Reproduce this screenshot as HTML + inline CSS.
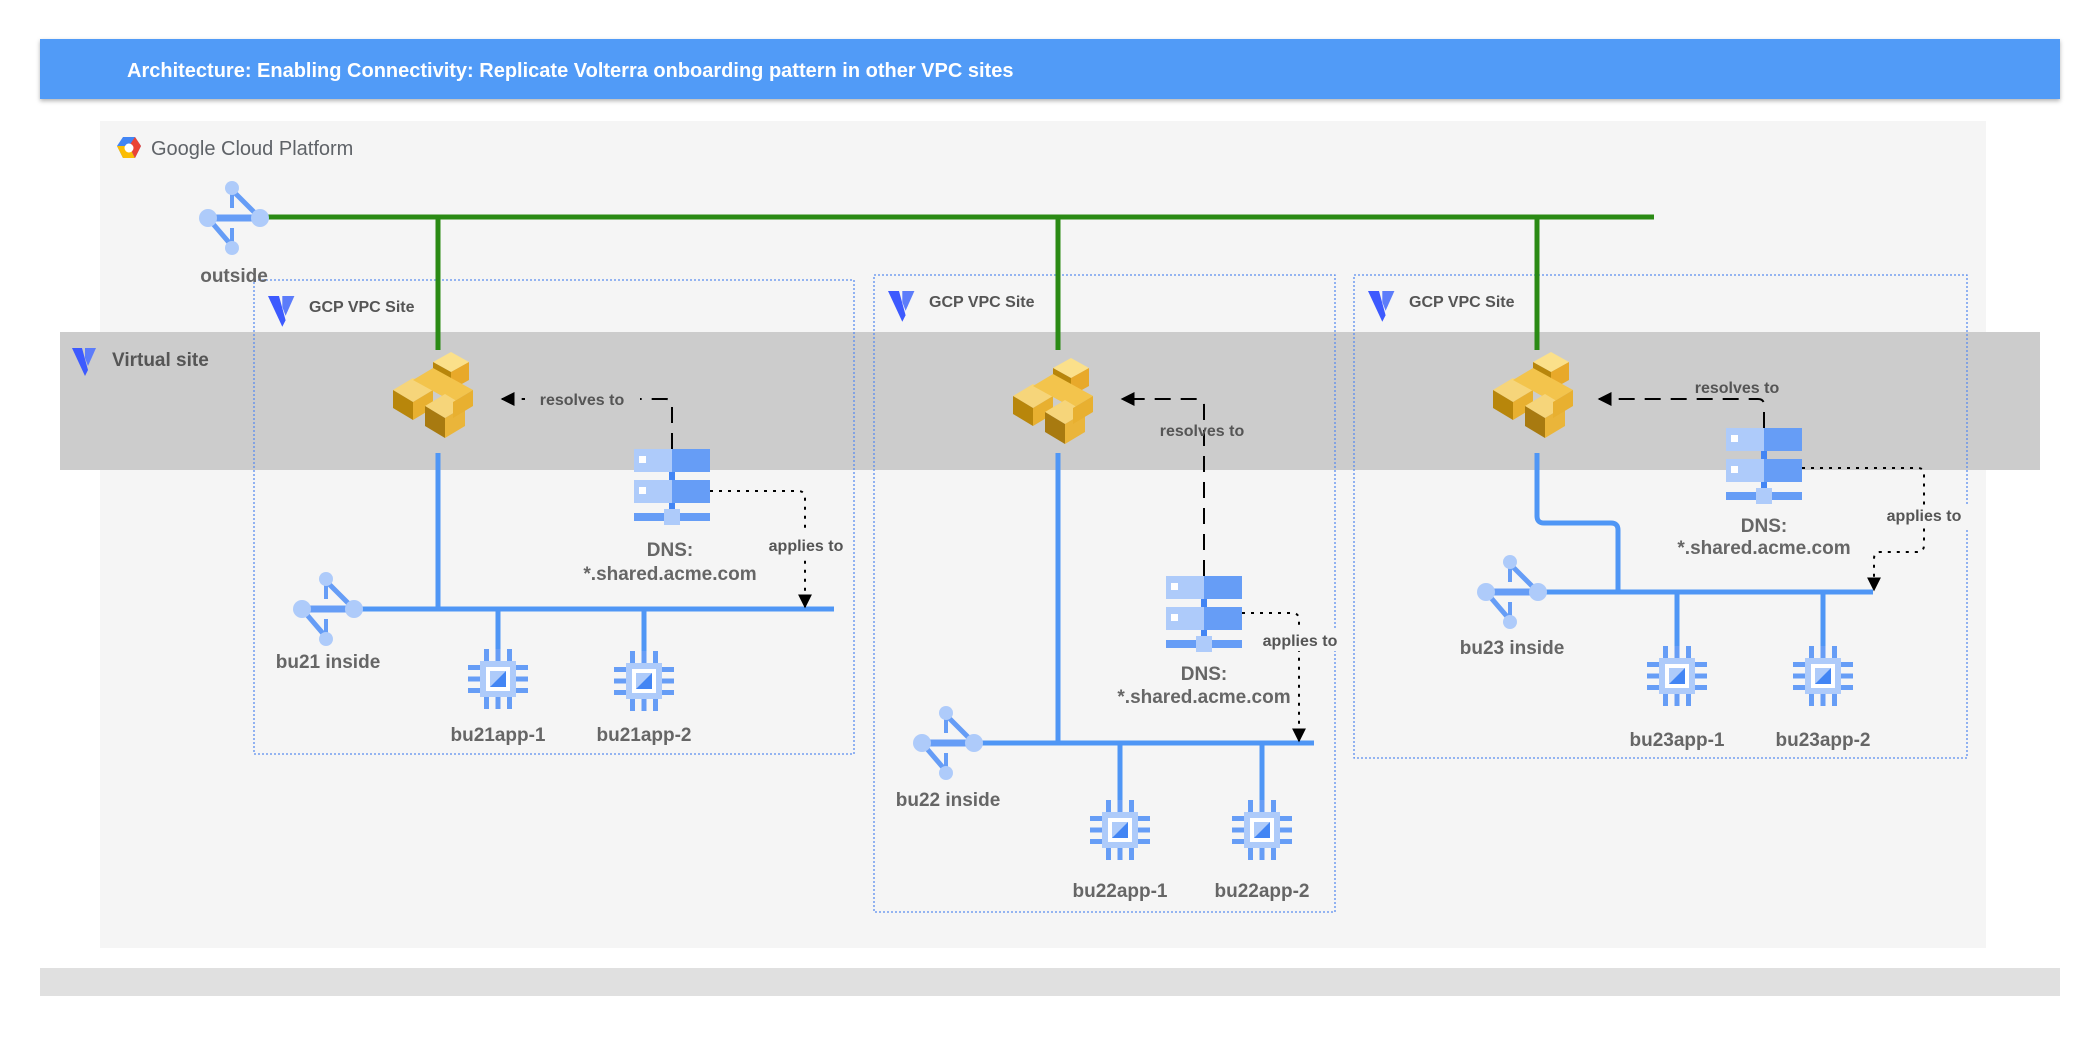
<!DOCTYPE html>
<html><head><meta charset="utf-8"><style>
html,body{margin:0;padding:0;background:#fff;}
svg{display:block;}
text{font-family:"Liberation Sans",Arial,sans-serif;}
.lbl{font-size:19px;font-weight:bold;fill:#666;}
.sm{font-size:16px;font-weight:bold;fill:#555;}
.cl{font-size:16px;font-weight:bold;fill:#555;}
</style></head><body>
<svg width="2100" height="1038" viewBox="0 0 2100 1038" xmlns="http://www.w3.org/2000/svg">
<defs>
  <filter id="sh" x="-5%" y="-20%" width="110%" height="150%"><feDropShadow dx="0" dy="2" stdDeviation="2" flood-color="#000" flood-opacity="0.3"/></filter>
  <marker id="ar" viewBox="0 0 10 10" refX="9" refY="5" markerWidth="7" markerHeight="7" orient="auto"><path d="M0,0 L10,5 L0,10 z" fill="#000"/></marker>
  <g id="router">
    <line x1="-26" y1="0" x2="26" y2="0" stroke="#669df6" stroke-width="7"/>
    <line x1="-2" y1="-28" x2="26" y2="0" stroke="#669df6" stroke-width="5"/>
    <line x1="-26" y1="0" x2="-2" y2="28" stroke="#669df6" stroke-width="5"/>
    <line x1="-2" y1="-28" x2="-2" y2="-10" stroke="#669df6" stroke-width="4"/>
    <line x1="-2" y1="28" x2="-2" y2="10" stroke="#669df6" stroke-width="4"/>
    <circle cx="-26" cy="0" r="9" fill="#aecbfa"/>
    <circle cx="26" cy="0" r="9" fill="#aecbfa"/>
    <circle cx="-2" cy="-30" r="7" fill="#aecbfa"/>
    <circle cx="-2" cy="30" r="7" fill="#aecbfa"/>
  </g>
  <g id="chip">
    <rect x="-18" y="-18" width="36" height="36" fill="#aecbfa"/>
    <rect x="-12" y="-12" width="24" height="24" fill="#fff"/>
    <rect x="-8" y="-8" width="16" height="16" fill="#aecbfa"/>
    <path d="M8,-8 L8,8 L-8,8 z" fill="#4285f4"/>
    <g fill="#669df6">
      <rect x="-14" y="-30" width="5" height="12"/><rect x="-2.5" y="-30" width="5" height="12"/><rect x="9" y="-30" width="5" height="12"/>
      <rect x="-14" y="18" width="5" height="12"/><rect x="-2.5" y="18" width="5" height="12"/><rect x="9" y="18" width="5" height="12"/>
      <rect x="-30" y="-14" width="12" height="5"/><rect x="-30" y="-2.5" width="12" height="5"/><rect x="-30" y="9" width="12" height="5"/>
      <rect x="18" y="-14" width="12" height="5"/><rect x="18" y="-2.5" width="12" height="5"/><rect x="18" y="9" width="12" height="5"/>
    </g>
  </g>
  <g id="dns">
    <rect x="-38" y="-40" width="38" height="23" fill="#aecbfa"/>
    <rect x="0" y="-40" width="38" height="23" fill="#669df6"/>
    <rect x="-33" y="-33" width="7" height="7" fill="#fff"/>
    <rect x="-3" y="-17" width="6" height="8" fill="#4285f4"/>
    <rect x="-38" y="-9" width="38" height="23" fill="#aecbfa"/>
    <rect x="0" y="-9" width="38" height="23" fill="#669df6"/>
    <rect x="-33" y="-2" width="7" height="7" fill="#fff"/>
    <rect x="-3" y="14" width="6" height="8" fill="#4285f4"/>
    <rect x="-38" y="24" width="76" height="8" fill="#669df6"/>
    <rect x="-8" y="20" width="16" height="16" fill="#aecbfa"/>
  </g>
  <g id="gold">
    <polygon points="-40,-8 -20,-20 0,-8 -20,4" fill="#f6d57a"/>
    <polygon points="-40,-8 -20,4 -20,22 -40,10" fill="#b8860b"/>
    <polygon points="-20,4 0,-8 0,10 -20,22" fill="#e8b030"/>
    <polygon points="0,-36 18,-46 36,-36 18,-26" fill="#fbe08a"/>
    <polygon points="0,-36 18,-26 18,-8 0,-18" fill="#b8860b"/>
    <polygon points="18,-26 36,-36 36,-18 18,-8" fill="#e8a92a"/>
    <polygon points="-20,-18 0,-30 40,-8 20,4" fill="#f3c44c"/>
    <polygon points="-8,8 12,-4 32,8 12,20" fill="#f6d57a"/>
    <polygon points="-8,8 12,20 12,40 -8,28" fill="#a87a10"/>
    <polygon points="12,20 32,8 32,28 12,40" fill="#eab53a"/>
    <polygon points="20,4 40,-8 40,8 20,20" fill="#e8b030"/>
  </g>
  <g id="vlogo">
    <polygon points="0,0 10,0 16,22 13,28" fill="#3d5afe"/>
    <polygon points="13,0 24,0 16,18 13,10" fill="#5c7cfa"/>
  </g>
</defs>

<rect x="40" y="39" width="2020" height="60" fill="#519bf7" filter="url(#sh)"/>
<text x="127" y="77" font-size="20" font-weight="bold" fill="#fff">Architecture: Enabling Connectivity: Replicate Volterra onboarding pattern in other VPC sites</text>

<rect x="100" y="121" width="1886" height="827" fill="#f5f5f5"/>
<g transform="translate(129,148)">
  <polygon points="-12,-2 -6,-11 6,-11 12,-2 6,10 -6,10" fill="#4285f4"/>
  <polygon points="-12,-2 -6,10 6,10 0,-2" fill="#fbbc04"/>
  <polygon points="6,10 12,-2 6,-11 0,-2" fill="#ea4335"/>
  <circle cx="0" cy="0" r="4.5" fill="#fff"/>
</g>
<text x="151" y="155" font-size="20" fill="#5f6368">Google Cloud Platform</text>

<rect x="40" y="968" width="2020" height="28" fill="#e0e0e0"/>

<rect x="60" y="332" width="1980" height="138" fill="#cccccc"/>
<use href="#vlogo" transform="translate(72,348)"/>
<text x="112" y="366" font-size="19" font-weight="bold" fill="#555">Virtual site</text>

<g fill="none" stroke="#5b8def" stroke-width="1.3" stroke-dasharray="2,2">
  <rect x="254" y="280" width="600" height="474"/>
  <rect x="874" y="275" width="461" height="637"/>
  <rect x="1354" y="275" width="613" height="483"/>
</g>
<use href="#vlogo" transform="translate(268,296) scale(1.1)"/>
<text x="309" y="312" class="sm">GCP VPC Site</text>
<use href="#vlogo" transform="translate(888,291) scale(1.1)"/>
<text x="929" y="307" class="sm">GCP VPC Site</text>
<use href="#vlogo" transform="translate(1368,291) scale(1.1)"/>
<text x="1409" y="307" class="sm">GCP VPC Site</text>

<g stroke="#2a8a14" stroke-width="5" fill="none">
  <line x1="258" y1="217" x2="1654" y2="217"/>
  <line x1="438" y1="217" x2="438" y2="350"/>
  <line x1="1058" y1="217" x2="1058" y2="350"/>
  <line x1="1537" y1="217" x2="1537" y2="350"/>
</g>
<use href="#router" transform="translate(234,218)"/>
<text x="234" y="282" text-anchor="middle" class="lbl">outside</text>

<g stroke="#4f96f5" stroke-width="5" fill="none">
  <line x1="438" y1="453" x2="438" y2="609"/>
  <line x1="360" y1="609" x2="834" y2="609"/>
  <line x1="498" y1="609" x2="498" y2="655"/>
  <line x1="644" y1="609" x2="644" y2="655"/>
  <line x1="1058" y1="453" x2="1058" y2="743"/>
  <line x1="975" y1="743" x2="1314" y2="743"/>
  <line x1="1120" y1="743" x2="1120" y2="805"/>
  <line x1="1262" y1="743" x2="1262" y2="805"/>
  <path d="M1537,453 V516 Q1537,523 1544,523 H1611 Q1618,523 1618,530 V592"/>
  <line x1="1540" y1="592" x2="1873" y2="592"/>
  <line x1="1677" y1="592" x2="1677" y2="652"/>
  <line x1="1823" y1="592" x2="1823" y2="652"/>
</g>

<use href="#gold" transform="translate(433,398)"/>
<use href="#gold" transform="translate(1053,404)"/>
<use href="#gold" transform="translate(1533,398)"/>

<use href="#router" transform="translate(328,609)"/>
<text x="328" y="668" text-anchor="middle" class="lbl">bu21 inside</text>
<use href="#router" transform="translate(948,743)"/>
<text x="948" y="806" text-anchor="middle" class="lbl">bu22 inside</text>
<use href="#router" transform="translate(1512,592)"/>
<text x="1512" y="654" text-anchor="middle" class="lbl">bu23 inside</text>

<use href="#chip" transform="translate(498,679)"/>
<text x="498" y="741" text-anchor="middle" class="lbl">bu21app-1</text>
<use href="#chip" transform="translate(644,681)"/>
<text x="644" y="741" text-anchor="middle" class="lbl">bu21app-2</text>
<use href="#chip" transform="translate(1120,830)"/>
<text x="1120" y="897" text-anchor="middle" class="lbl">bu22app-1</text>
<use href="#chip" transform="translate(1262,830)"/>
<text x="1262" y="897" text-anchor="middle" class="lbl">bu22app-2</text>
<use href="#chip" transform="translate(1677,676)"/>
<text x="1677" y="746" text-anchor="middle" class="lbl">bu23app-1</text>
<use href="#chip" transform="translate(1823,676)"/>
<text x="1823" y="746" text-anchor="middle" class="lbl">bu23app-2</text>

<!-- DNS icons + labels -->
<use href="#dns" transform="translate(672,489)"/>
<text x="670" y="556" text-anchor="middle" class="lbl">DNS:</text>
<text x="670" y="580" text-anchor="middle" class="lbl">*.shared.acme.com</text>
<use href="#dns" transform="translate(1204,616)"/>
<text x="1204" y="680" text-anchor="middle" class="lbl">DNS:</text>
<text x="1204" y="703" text-anchor="middle" class="lbl">*.shared.acme.com</text>
<use href="#dns" transform="translate(1764,468)"/>
<text x="1764" y="532" text-anchor="middle" class="lbl">DNS:</text>
<text x="1764" y="554" text-anchor="middle" class="lbl">*.shared.acme.com</text>

<!-- connectors -->
<g fill="none" stroke="#000" stroke-width="2">
  <path d="M672,449 V405 Q672,399 666,399 H502" stroke-dasharray="16,10" marker-end="url(#ar)"/>
  <path d="M710,491 H798 Q805,491 805,498 V607" stroke-dasharray="3,6" marker-end="url(#ar)"/>
  <path d="M1204,576 V405 Q1204,399 1198,399 H1122" stroke-dasharray="16,10" marker-end="url(#ar)"/>
  <path d="M1242,613 H1292 Q1299,613 1299,620 V741" stroke-dasharray="3,6" marker-end="url(#ar)"/>
  <path d="M1764,428 V405 Q1764,399 1758,399 H1599" stroke-dasharray="16,10" marker-end="url(#ar)"/>
  <path d="M1802,468 H1918 Q1924,468 1924,475 V545 Q1924,552 1917,552 H1880 Q1874,552 1874,559 V590" stroke-dasharray="3,6" marker-end="url(#ar)"/>
</g>
<rect x="525" y="388" width="115" height="22" fill="#cccccc"/>
<text x="582" y="405" text-anchor="middle" class="cl">resolves to</text>
<rect x="762" y="533" width="90" height="22" fill="#f5f5f5"/>
<text x="806" y="551" text-anchor="middle" class="cl">applies to</text>
<text x="1202" y="436" text-anchor="middle" class="cl">resolves to</text>
<rect x="1256" y="629" width="88" height="22" fill="#f5f5f5"/>
<text x="1300" y="646" text-anchor="middle" class="cl">applies to</text>
<text x="1737" y="393" text-anchor="middle" class="cl">resolves to</text>
<rect x="1880" y="506" width="88" height="22" fill="#f5f5f5"/>
<text x="1924" y="521" text-anchor="middle" class="cl">applies to</text>
</svg>
</body></html>
